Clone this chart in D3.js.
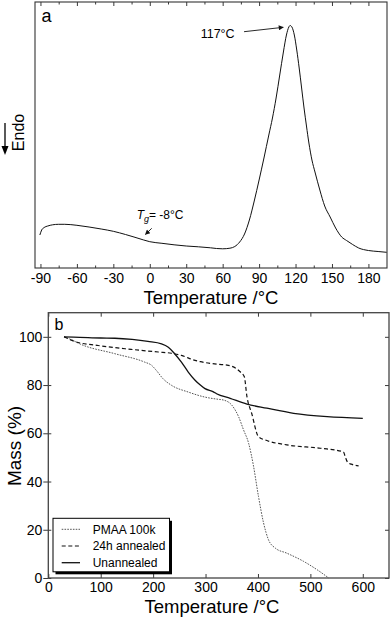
<!DOCTYPE html>
<html>
<head>
<meta charset="utf-8">
<script src="https://cdn.jsdelivr.net/npm/d3@7"></script>
<style>
body { margin: 0; background: #fff; }
svg text { font-family: "Liberation Sans", Arial, sans-serif; fill: #000; }
</style>
</head>
<body>
<div id="chart"></div>
<script>
// ---- panel a : DSC trace (heat flow, arbitrary units)
var dscTemp = [-90.5, -89, -87, -84, -80, -75, -70, -60, -50, -40, -30, -20, -13, -5, 0, 10, 20, 30, 40, 50, 55, 60,
    66, 70, 74, 78, 82, 86, 90, 94, 98, 101, 104, 107, 110, 112.5, 114.5, 115.5, 117, 119, 121, 123, 125, 127, 129,
    131, 133.5, 136, 140, 144, 148.5, 153, 158, 162, 167, 172, 180, 188, 195];
var dscFlow = [33, 38, 40.5, 42, 43.2, 43.7, 43.7, 42.7, 41, 39, 36.7, 33.5, 31, 28, 26.3, 24.7, 23.2, 22, 21.2, 20.2, 19.5, 19.2,
    19.8, 21.5, 26, 34, 48, 67, 88, 110, 133, 150, 170, 193, 216, 233, 241, 242.5, 241, 233, 218, 200, 180, 160, 142,
    125, 108, 96, 78, 62, 51, 40, 31, 27.5, 23.5, 20, 17.5, 16.5, 15.7];
var dscTicks = [-90, -60, -30, 0, 30, 60, 90, 120, 150, 180];
var dscMinor = [-75, -45, -15, 15, 45, 75, 105, 135, 165];

// ---- panel b : TGA, mass (%) vs temperature
var seriesNames = ["PMAA 100k", "24h annealed", "Unannealed"];
var pmaaTemp = [30, 47, 60, 127, 184, 197, 206, 219, 235, 267, 299, 324, 334, 350, 363, 372.5, 382, 391, 401, 410.7, 420, 433, 455, 487, 513, 535];
var pmaaMass = [100, 98.5, 97.1, 93, 89.5, 88.2, 86.1, 82.6, 79.9, 77.1, 75, 74.1, 73.8, 71.7, 66.9, 61.4, 56, 47, 33.8, 22.8, 15.9, 12.4, 10.3, 6.9, 3.4, 0];
var annTemp = [30, 50, 95, 158, 210, 235, 254, 280, 290, 324, 341, 366, 374, 379, 388, 401, 417, 455, 519, 563, 567, 571, 578, 592];
var annMass = [100, 98.1, 96.4, 94.8, 93.7, 93.2, 92.3, 90.2, 89.7, 88.6, 88.3, 85.5, 83.4, 75.2, 68.3, 58.6, 57, 55.2, 53.8, 52.3, 50, 48, 47.2, 46.5];
var unTemp = [30, 60, 100, 127, 160, 190, 216, 229, 241, 254, 267, 280, 290, 299, 315, 321, 347, 379, 417, 468, 532, 600];
var unMass = [100, 99.8, 99.5, 99.4, 98.9, 98.1, 97.1, 95.7, 93, 89.5, 85.4, 82, 80, 78.5, 77.2, 76.4, 74.5, 72.1, 70.4, 68.3, 66.9, 66.2];
var tgaXTicks = [0, 100, 200, 300, 400, 500, 600];
var tgaYTicks = [0, 20, 40, 60, 80, 100];

var font = "Liberation Sans, Arial, sans-serif";
var width = 392, height = 619;

var svg = d3.select("#chart").append("svg").attr("width", width).attr("height", height);

var zip = function(xs, ys) {
    return xs.map(function(x, i) { return [x, ys[i]]; });
};

var styleAxis = function(g, size) {
    g.attr("font-size", size).attr("font-family", font).attr("color", "#222");
    g.select(".domain").remove();
    g.selectAll("line").attr("stroke-width", 0.9);
};

// ================= panel a =================
var xa = d3.scaleLinear().domain([-94.5, 195.3]).range([35, 387]);
var ya = d3.scaleLinear().domain([0, 266]).range([268, 2]);

var pa = svg.append("g");

pa.append("g").attr("transform", "translate(0,268)")
    .call(d3.axisBottom(xa).tickValues(dscTicks).tickSize(-4).tickPadding(5).tickFormat(function(d) { return String(d); }))
    .call(styleAxis, 14);
pa.append("g").attr("transform", "translate(0,268)")
    .call(d3.axisBottom(xa).tickValues(dscMinor).tickSize(-2.5).tickFormat(""))
    .call(styleAxis, 14);
pa.append("g").attr("transform", "translate(0,2)")
    .call(d3.axisTop(xa).tickValues(dscTicks).tickSize(-4).tickFormat(""))
    .call(styleAxis, 14);
pa.append("g").attr("transform", "translate(0,2)")
    .call(d3.axisTop(xa).tickValues(dscMinor).tickSize(-2.5).tickFormat(""))
    .call(styleAxis, 14);

pa.append("rect").attr("x", 35).attr("y", 2).attr("width", 352).attr("height", 266)
    .attr("fill", "none").attr("stroke", "#333").attr("stroke-width", 1.1);

var lineA = d3.line().x(function(d) { return xa(d[0]); }).y(function(d) { return ya(d[1]); }).curve(d3.curveMonotoneX);
pa.append("path").datum(zip(dscTemp, dscFlow)).attr("d", lineA)
    .attr("fill", "none").attr("stroke", "#111").attr("stroke-width", 1);

// arrow marker
svg.append("defs").append("marker").attr("id", "head").attr("viewBox", "0 0 10 10")
    .attr("refX", 9).attr("refY", 5).attr("markerWidth", 7).attr("markerHeight", 5)
    .attr("markerUnits", "userSpaceOnUse").attr("orient", "auto")
    .append("path").attr("d", "M0,0 L10,5 L0,10 Z").attr("fill", "#111");

pa.append("line").attr("x1", xa(77.6)).attr("y1", ya(236.3)).attr("x2", xa(109.9)).attr("y2", ya(240.7))
    .attr("stroke", "#111").attr("stroke-width", 0.9).attr("marker-end", "url(#head)");
pa.append("text").attr("x", xa(41.9)).attr("y", ya(230)).attr("font-size", 12.5).text("117°C");

pa.append("line").attr("x1", xa(1.6)).attr("y1", ya(39.7)).attr("x2", xa(-3.6)).attr("y2", ya(33.5))
    .attr("stroke", "#111").attr("stroke-width", 0.9).attr("marker-end", "url(#head)");
var tg = pa.append("text").attr("x", xa(-10.8)).attr("y", ya(48.7)).attr("font-size", 12);
tg.append("tspan").attr("font-style", "italic").text("T");
tg.append("tspan").attr("font-style", "italic").attr("font-size", 9).attr("dy", 3).text("g");
tg.append("tspan").attr("dy", -3).text("= -8°C");

pa.append("text").attr("x", 41.5).attr("y", 21.5).attr("font-size", 18).text("a");

pa.append("text").attr("x", 211).attr("y", 304).attr("text-anchor", "middle").attr("font-size", 18.5).text("Temperature /°C");

// Endo with down arrow
pa.append("text").attr("transform", "translate(24,132.5) rotate(-90)").attr("text-anchor", "middle")
    .attr("font-size", 16).text("Endo");
pa.append("line").attr("x1", 5).attr("y1", 123).attr("x2", 5).attr("y2", 148).attr("stroke", "#000").attr("stroke-width", 1.3);
pa.append("path").attr("d", "M1.5,146 L8.5,146 L5,155 Z").attr("fill", "#000");

// ================= panel b =================
var xb = d3.scaleLinear().domain([0, 650]).range([48.3, 389]);
var yb = d3.scaleLinear().domain([0, 110]).range([578, 312.7]);

var pb = svg.append("g");

pb.append("g").attr("transform", "translate(0,578)")
    .call(d3.axisBottom(xb).tickValues(tgaXTicks).tickSize(-4).tickPadding(4).tickFormat(function(d) { return String(d); }))
    .call(styleAxis, 14);
pb.append("g").attr("transform", "translate(0,312.7)")
    .call(d3.axisTop(xb).tickValues(tgaXTicks).tickSize(-4).tickFormat(""))
    .call(styleAxis, 14);
pb.append("g").attr("transform", "translate(48.3,0)")
    .call(d3.axisLeft(yb).tickValues(tgaYTicks).tickSizeInner(5).tickSizeOuter(0).tickPadding(1).tickFormat(function(d) { return String(d); }))
    .call(styleAxis, 14);
pb.append("g").attr("transform", "translate(48.3,0)")
    .call(d3.axisLeft(yb).tickValues(tgaYTicks).tickSize(-3).tickFormat(""))
    .call(styleAxis, 14);
pb.append("g").attr("transform", "translate(389,0)")
    .call(d3.axisRight(yb).tickValues(tgaYTicks).tickSize(-4).tickFormat(""))
    .call(styleAxis, 14);

pb.append("rect").attr("x", 48.3).attr("y", 312.7).attr("width", 389 - 48.3).attr("height", 578 - 312.7)
    .attr("fill", "none").attr("stroke", "#444").attr("stroke-width", 1.3);

var lineB = d3.line().x(function(d) { return xb(d[0]); }).y(function(d) { return yb(d[1]); }).curve(d3.curveMonotoneX);

var tgaStyles = [
    { data: zip(pmaaTemp, pmaaMass), stroke: "#555", width: 1, dash: "1.6,1.2" },
    { data: zip(annTemp, annMass), stroke: "#111", width: 1.2, dash: "4,2.6" },
    { data: zip(unTemp, unMass), stroke: "#111", width: 1.3, dash: null }
];

tgaStyles.forEach(function(s) {
    pb.append("path").datum(s.data).attr("d", lineB)
        .attr("fill", "none").attr("stroke", s.stroke).attr("stroke-width", s.width)
        .attr("stroke-dasharray", s.dash);
});

// legend
var lg = pb.append("g").attr("transform", "translate(53,518.3)");
lg.append("rect").attr("x", 2.5).attr("y", 2.5).attr("width", 116.5).attr("height", 53.5).attr("fill", "#000");
lg.append("rect").attr("x", 0).attr("y", 0).attr("width", 116.5).attr("height", 53.5)
    .attr("fill", "#fff").attr("stroke", "#000").attr("stroke-width", 1);
seriesNames.forEach(function(name, i) {
    var yy = 11 + i * 16.7;
    lg.append("line").attr("x1", 8.7).attr("x2", 27).attr("y1", yy).attr("y2", yy)
        .attr("stroke", tgaStyles[i].stroke).attr("stroke-width", tgaStyles[i].width)
        .attr("stroke-dasharray", tgaStyles[i].dash);
    lg.append("text").attr("x", 39.7).attr("y", yy).attr("dy", "0.36em").attr("font-size", 12).text(name);
});

pb.append("text").attr("x", 54.5).attr("y", 330.3).attr("font-size", 16).text("b");

pb.append("text").attr("x", 212).attr("y", 613).attr("text-anchor", "middle").attr("font-size", 18.5).text("Temperature /°C");
pb.append("text").attr("transform", "translate(21,446) rotate(-90)").attr("text-anchor", "middle")
    .attr("font-size", 19).text("Mass (%)");
</script>
</body>
</html>
